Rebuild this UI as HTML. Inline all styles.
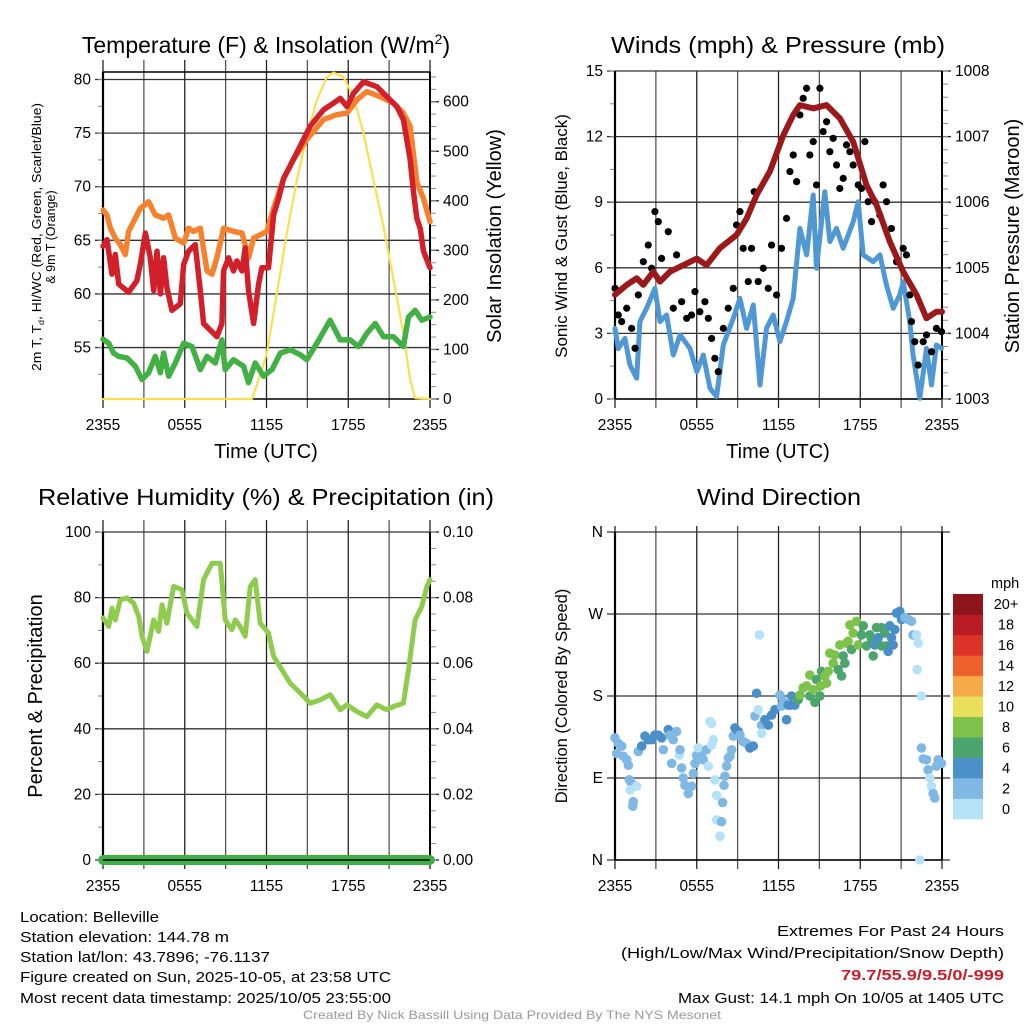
<!DOCTYPE html>
<html><head><meta charset="utf-8"><style>
html,body{margin:0;padding:0;background:#fff;}
svg{display:block;font-family:"Liberation Sans",sans-serif;}
</style></head><body>
<svg id="fig" width="1024" height="1024" viewBox="0 0 1024 1024" xmlns="http://www.w3.org/2000/svg">
<rect width="1024" height="1024" fill="#fff"/>
<g id="layer"></g>
<text x="266" y="53" font-size="23" text-anchor="middle">Temperature (F) &amp; Insolation (W/m<tspan font-size="14" dy="-9">2</tspan><tspan dy="9">)</tspan></text>
<text x="778" y="53" font-size="23" text-anchor="middle" textLength="334" lengthAdjust="spacingAndGlyphs">Winds (mph) &amp; Pressure (mb)</text>
<text x="266" y="505" font-size="23" text-anchor="middle" textLength="456" lengthAdjust="spacingAndGlyphs">Relative Humidity (%) &amp; Precipitation (in)</text>
<text x="779" y="505" font-size="23" text-anchor="middle" textLength="164" lengthAdjust="spacingAndGlyphs">Wind Direction</text>
<text x="266" y="458" font-size="20" text-anchor="middle">Time (UTC)</text>
<text x="778" y="458" font-size="20" text-anchor="middle">Time (UTC)</text>
<text transform="translate(41,237) rotate(-90)" font-size="12.5" text-anchor="middle" textLength="268" lengthAdjust="spacingAndGlyphs">2m T, T<tspan font-size="8" dy="3">d</tspan><tspan dy="-3">, HI/WC (Red, Green, Scarlet/Blue)</tspan></text>
<text transform="translate(55,237) rotate(-90)" font-size="12.5" text-anchor="middle">&amp; 9m T (Orange)</text>
<text transform="translate(501,236) rotate(-90)" font-size="20" text-anchor="middle">Solar Insolation (Yellow)</text>
<text transform="translate(567,236) rotate(-90)" font-size="17" text-anchor="middle">Sonic Wind &amp; Gust (Blue, Black)</text>
<text transform="translate(1019,236) rotate(-90)" font-size="20" text-anchor="middle">Station Pressure (Maroon)</text>
<text transform="translate(42,696) rotate(-90)" font-size="20" text-anchor="middle">Percent &amp; Precipitation</text>
<text transform="translate(567,696) rotate(-90)" font-size="16.5" text-anchor="middle">Direction (Colored By Speed)</text>
<g font-size="15">
<text x="20" y="922" textLength="139" lengthAdjust="spacingAndGlyphs">Location: Belleville</text>
<text x="20" y="942" textLength="209" lengthAdjust="spacingAndGlyphs">Station elevation: 144.78 m</text>
<text x="20" y="962" textLength="250" lengthAdjust="spacingAndGlyphs">Station lat/lon: 43.7896; -76.1137</text>
<text x="20" y="982" textLength="371" lengthAdjust="spacingAndGlyphs">Figure created on Sun, 2025-10-05, at 23:58 UTC</text>
<text x="20" y="1003" textLength="371" lengthAdjust="spacingAndGlyphs">Most recent data timestamp: 2025/10/05 23:55:00</text>
</g>
<g font-size="15" text-anchor="end">
<text x="1004" y="936" textLength="227" lengthAdjust="spacingAndGlyphs">Extremes For Past 24 Hours</text>
<text x="1004" y="958" textLength="383" lengthAdjust="spacingAndGlyphs">(High/Low/Max Wind/Precipitation/Snow Depth)</text>
<text x="1004" y="980" font-weight="bold" fill="#c8202a" textLength="163" lengthAdjust="spacingAndGlyphs">79.7/55.9/9.5/0/-999</text>
<text x="1004" y="1003" textLength="326" lengthAdjust="spacingAndGlyphs">Max Gust: 14.1 mph On 10/05 at 1405 UTC</text>
</g>
<text x="512" y="1019" font-size="12" fill="#999" text-anchor="middle" textLength="418" lengthAdjust="spacingAndGlyphs">Created By Nick Bassill Using Data Provided By The NYS Mesonet</text>
</svg>
<script>
// ---- data ----
const timeTicks = ["2355","0555","1155","1755","2355"];
const tempTicks = [55,60,65,70,75,80];
const solarTicks = [0,100,200,300,400,500,600];
const windTicks = [0,3,6,9,12,15];
const pressTicks = [1003,1004,1005,1006,1007,1008];
const rhTicks = [0,20,40,60,80,100];
const precipTicks = ["0.00","0.02","0.04","0.06","0.08","0.10"];
const dirTicks = ["N","E","S","W","N"];
const speedBins = ["0","2","4","6","8","10","12","14","16","18","20+"];
const speedColors = ["#b6e2f8","#7fb9e3","#4a8fc7","#4ba56d","#7dc24b","#e8e05a","#f6aa48","#ef612c","#dc3429","#ba1c26","#8e151a"];

const tempHours = [0,.29,.66,.9,1.15,1.88,2.49,2.74,3.11,3.47,3.72,3.96,4.21,4.45,4.69,5.06,5.67,5.92,6.28,6.77,7.14,7.38,8.36,8.73,8.85,9.22,9.58,9.83,10.2,10.44,10.68,11.05,11.42,11.66,12.15,12.52,12.89,13.25,13.74,14.47,15.21,16.19,16.92,17.41,17.9,18.39,19.12,20.1,20.83,21.56,22.05,22.54,22.79,23.03,23.28,23.52,24];
const tempValues = [64.45,65.06,61.84,63.68,60.92,60.15,61.23,62.76,65.67,63.37,60.31,63.99,60.0,63.37,60.61,58.47,59.08,62.76,63.99,64.6,60.31,57.24,56.01,57.24,62.15,63.37,62.15,63.07,62.15,64.29,60.31,57.24,60.92,62.45,62.45,67.36,68.9,70.74,71.96,73.8,75.64,77.18,77.79,78.25,77.48,78.71,79.79,79.33,78.4,77.48,76.26,72.58,69.51,67.06,66.13,63.99,62.45];
const t9Hours = [0,.29,.54,.9,1.27,1.64,1.88,2.37,2.74,3.35,3.84,4.45,4.82,5.31,5.92,6.28,6.65,7.14,7.63,8.0,8.36,8.85,9.58,10.2,10.68,11.05,12.03,12.52,13.25,13.99,14.96,16.19,17.16,17.9,18.63,19.36,20.34,21.32,22.05,22.54,23.03,23.52,24];
const t9Values = [67.82,67.36,66.13,65.21,64.6,63.68,65.83,67.06,67.98,68.59,67.36,67.06,67.36,65.21,64.75,66.13,65.83,66.13,62.15,61.84,63.37,66.13,65.83,65.67,63.37,65.21,65.83,67.98,70.74,72.58,74.42,76.26,76.72,76.87,78.1,78.87,78.4,77.79,76.87,75.64,70.43,68.9,66.75];
const dewHours = [0,.42,.78,1.15,1.76,2.37,2.86,3.35,3.84,4.21,4.45,4.82,5.31,5.92,6.53,7.14,7.63,8.24,8.73,8.97,9.58,10.32,10.68,11.17,11.78,12.4,13.01,13.74,14.47,14.96,15.7,16.67,17.41,18.14,18.75,19.36,19.98,20.59,21.32,22.05,22.42,22.91,23.4,24];
const dewValues = [55.77,55.4,54.48,54.17,54.02,53.25,52.02,52.64,54.17,52.64,54.48,52.33,53.56,55.4,55.09,52.94,54.17,53.56,55.71,52.94,53.87,53.25,51.72,53.56,52.33,52.94,54.48,54.79,54.33,53.87,55.4,57.55,55.71,55.71,55.09,56.32,57.24,56.01,56.01,55.09,57.85,58.47,57.55,57.85];
const solarHours = [0,10.93,11.42,12.03,12.76,13.5,14.23,14.96,15.7,16.43,16.92,17.65,18.39,19.12,19.85,20.59,21.32,22.05,22.54,22.91,24];
const solarValues = [0,0,39,93,214,335,442,530,603,650,659,650,610,536,442,348,241,133,39,2,0];

const pressHours = [0,.86,1.59,2.08,2.81,3.3,4.03,5.01,6.0,6.72,7.7,8.92,9.66,10.39,11.37,12.35,13.08,13.57,14.55,15.53,16.5,17.48,18.46,19.19,20.17,21.15,22.13,22.86,23.59,24];
const pressValues = [1004.59,1004.74,1004.84,1004.74,1004.94,1004.79,1004.94,1005.04,1005.14,1005.04,1005.3,1005.5,1005.75,1006.11,1006.47,1007.02,1007.33,1007.48,1007.43,1007.48,1007.28,1006.92,1006.26,1005.96,1005.4,1004.94,1004.59,1004.23,1004.33,1004.33];
const windHours = [0,.24,.73,1.1,1.59,1.83,2.32,2.93,3.3,3.79,4.28,4.77,5.5,6.0,6.48,6.97,7.46,7.95,8.68,9.17,9.66,10.15,10.64,11.12,11.61,12.1,12.59,13.08,13.57,14.06,14.55,14.79,15.4,15.77,16.26,16.75,17.48,17.85,18.22,18.95,19.44,19.93,20.42,20.9,21.15,21.64,21.88,22.37,22.86,23.23,23.59,23.96];
const windValues = [3.23,2.3,2.77,1.55,.95,3.54,4.15,5.06,3.54,3.84,2.01,2.93,2.32,1.25,2.01,.49,.11,2.47,3.69,4.6,3.23,4.3,.64,3.23,3.84,2.62,3.54,4.6,7.8,6.59,9.33,5.98,9.48,7.2,7.8,6.89,8.11,9.02,6.59,6.28,6.59,5.21,4.15,4.76,5.37,3.54,2.01,.03,2.32,.64,2.47,2.32];
const gustHours = [0,.24,.49,.86,1.22,1.47,1.71,2.08,2.44,2.69,2.93,3.18,3.42,3.91,4.28,4.52,4.89,5.26,5.62,5.87,6.23,6.6,6.85,7.09,7.33,7.58,7.95,8.31,8.68,8.92,9.17,9.41,9.78,10.02,10.22,10.51,10.88,11.25,11.49,11.86,12.22,12.59,12.84,13.08,13.33,13.57,13.81,14.06,14.3,14.55,14.79,15.04,15.28,15.53,15.77,16.01,16.26,16.5,16.75,16.99,17.24,17.48,17.85,18.09,18.34,18.58,18.83,19.07,19.44,19.68,19.93,20.29,20.66,21.15,21.39,21.64,21.76,22.0,22.25,22.62,22.86,23.23,23.59,23.96];
const gustValues = [5.06,3.84,3.54,4.15,3.23,2.32,4.76,6.28,7.04,5.98,8.57,8.11,6.43,7.65,4.15,6.59,4.45,3.69,3.84,4.91,3.99,4.45,3.69,2.77,1.86,1.25,3.23,4.15,5.06,7.96,8.57,6.89,5.37,6.89,9.48,5.37,5.98,5.06,7.04,4.76,6.89,8.26,10.4,11.16,9.94,12.99,13.75,14.21,11.16,11.77,9.79,14.21,12.23,12.68,11.31,11.92,10.7,9.63,10.09,11.62,11.31,10.7,9.79,9.63,11.77,9.02,8.11,9.02,8.41,9.79,9.02,7.8,6.28,6.89,6.59,4.76,3.54,2.62,1.55,2.62,2.93,2.16,3.23,3.08];

const rhHours = [0,.42,.66,.9,1.27,1.76,2.25,2.62,2.86,3.23,3.72,4.08,4.33,4.69,5.18,5.79,6.16,6.89,7.38,8.0,8.61,8.97,9.46,9.71,10.07,10.44,10.81,11.17,11.54,12.15,12.52,13.13,13.74,14.47,15.21,15.94,16.67,17.41,17.9,18.63,19.36,20.1,20.83,21.32,22.05,22.42,22.91,23.4,23.77,24];
const rhValues = [73.8,71.2,76.8,73.2,79.3,79.9,78.3,74.3,68.2,63.6,73.2,69.7,77.8,72.2,83.4,82.4,75.3,71.2,85.5,90.5,90.5,73.2,70.2,73.2,71.2,68.2,83.4,85.5,72.2,69.2,62.1,58.0,53.9,50.9,47.8,48.8,50.4,45.8,47.3,45.3,43.7,47.3,45.8,46.8,47.8,58.0,73.2,77.3,83.4,85.5];
const precipHours = [0,24];
const precipValues = [0,0];

const dirHours = [0,.24,.49,.12,.61,.86,.98,1.05,1.22,1.1,1.59,1.34,1.3,1.71,1.96,2.2,2.44,2.69,2.93,3.18,3.42,3.55,3.91,4.03,4.28,4.52,4.16,4.72,4.77,4.89,5.01,5.13,5.38,5.62,5.75,5.87,5.99,6.11,6.36,6.48,6.72,6.85,6.97,7.09,7.21,7.09,7.33,7.46,7.46,7.7,7.82,7.9,8.0,8.07,8.19,8.31,8.44,8.56,8.68,8.8,9.05,9.17,9.41,9.66,9.9,10.15,10.27,10.39,10.51,10.59,10.76,10.76,11.0,11.25,11.49,11.74,12.1,12.22,12.35,12.59,12.71,12.84,12.96,13.2,13.45,13.57,13.81,14.06,14.3,14.3,14.55,14.67,14.79,15.04,15.09,15.16,15.4,15.53,15.65,15.77,16.01,16.14,16.38,16.5,16.63,16.75,16.87,16.99,17.11,17.24,17.36,17.48,17.73,17.85,18.09,18.22,18.46,18.7,18.83,18.95,19.07,19.19,19.32,19.56,19.56,19.8,19.93,20.05,20.17,20.29,20.42,20.54,20.66,20.9,21.03,21.27,21.52,21.76,21.88,22.13,22.25,22.18,22.49,22.49,22.62,22.86,22.98,23.11,23.23,23.35,23.47,23.59,23.72,23.96,22.37];
const dirValues = [134,128,125,117,114,110,104,88,84,77,81,64,59,119,125,136,132,132,137,137,134,121,143,137,132,141,106,115,121,101,90,82,73,81,95,106,115,123,114,110,121,103,152,150,132,126,88,71,44,26,42,63,82,92,103,112,114,121,136,145,141,137,130,128,123,125,158,183,165,247,148,139,154,148,159,165,181,169,174,154,170,170,180,170,176,181,189,191,180,203,187,173,198,180,191,207,202,194,207,227,216,225,209,236,202,224,216,238,240,258,231,249,262,236,247,257,235,247,242,224,236,255,244,255,235,249,235,229,257,244,236,253,271,273,264,266,264,262,247,247,238,209,180,123,111,110,99,90,81,73,68,103,110,106,0];
const dirSpeeds = [3,3,3,3,3,3,3,3,3,1,1,3,3,3,5,5,5,5,5,5,5,3,5,3,3,3,3,1,3,3,3,3,3,3,3,3,3,1,3,3,3,1,1,1,1,1,1,1,1,1,3,3,3,3,3,3,3,3,3,5,5,3,3,3,5,5,3,5,1,1,3,1,5,5,5,5,3,3,3,5,5,5,5,5,7,9,9,9,7,9,9,7,7,7,9,7,9,9,9,9,9,9,7,9,7,7,7,9,9,9,7,9,9,9,7,7,7,7,7,7,5,7,5,7,7,7,7,5,5,5,5,5,5,5,5,3,3,3,3,1,1,1,1,3,3,3,3,1,1,3,3,3,3,3,1];

// ---- drawing ----
const NS = "http://www.w3.org/2000/svg";
const layer = document.getElementById('layer');
function mk(tag, attrs, parent){
  const e = document.createElementNS(NS, tag);
  for (const k in attrs) e.setAttribute(k, attrs[k]);
  (parent||layer).appendChild(e);
  return e;
}
function lin(d0,d1,r0,r1){ return v => r0 + (v-d0)/(d1-d0)*(r1-r0); }
function pathOf(xs, ys, sx, sy){
  return xs.map((h,i)=>(i?'L':'M')+sx(h).toFixed(1)+','+sy(ys[i]).toFixed(1)).join('');
}

function panel(px0, px1, py0, py1, opts){
  const g = mk('g', {});
  
  
  const sx = lin(0, 24, px0, px1);
  for (let h=0; h<=24; h+=3){
    const x = sx(h);
    const l = mk('line', {x1:x, x2:x, y1:py0-(opts.vext||0), y2:py1+9, stroke:(h%6? '#555':'#222'), 'stroke-width':1.3}, g);
    
    
  }
  timeTicks.forEach((t,i)=>{
    const tx = mk('text', {x:sx(i*6), y:py1+31, 'font-size':15.5, 'text-anchor':'middle'}, g);
    tx.textContent = t;
    
    
  });
  return {g, sx};
}
function leftAxis(g, px0, px1, sy, ticks, labels, minorStep, lo, hi){
  ticks.forEach((v,i)=>{
    const y = sy(v);
    const l = mk('line', {x1:px0-8, x2:px1+ (g._rightExt||0), y1:y, y2:y, stroke:'#333', 'stroke-width':1.3}, g);
    
    
    const t = mk('text', {x:px0-12, y:y+5, 'font-size':15.5, 'text-anchor':'end'}, g);
    t.textContent = labels ? labels[i] : v;
    
    
  });
  if (minorStep){
    for (let v=lo; v<=hi+1e-9; v+=minorStep){
      const y = sy(v);
      mk('line', {x1:px0-5, x2:px0, y1:y, y2:y, stroke:'#888', 'stroke-width':1}, g);
    }
  }
}
function rightAxis(g, px1, sy, ticks, labels, minorStep, lo, hi){
  ticks.forEach((v,i)=>{
    const y = sy(v);
    mk('line', {x1:px1, x2:px1+9, y1:y, y2:y, stroke:'#222', 'stroke-width':1.3}, g);
    const t = mk('text', {x:px1+13, y:y+5, 'font-size':15.5}, g);
    t.textContent = labels ? labels[i] : v;
    
    
  });
  if (minorStep){
    for (let v=lo; v<=hi+1e-9; v+=minorStep){
      const y = sy(v);
      mk('line', {x1:px1, x2:px1+6, y1:y, y2:y, stroke:'#888', 'stroke-width':1}, g);
    }
  }
}
function frame(g, x0, x1, y0, y1, top){
  mk('line', {x1:x0, x2:x0, y1:y0, y2:y1, stroke:'#000', 'stroke-width':2.2}, g);
  mk('line', {x1:x1, x2:x1, y1:y0, y2:y1, stroke:'#000', 'stroke-width':2}, g);
  mk('line', {x1:x0, x2:x1, y1:y1, y2:y1, stroke:'#000', 'stroke-width':1.5}, g);
  if (top) mk('line', {x1:x0, x2:x1, y1:y0, y2:y0, stroke:'#000', 'stroke-width':1.5}, g);
}
function series(g, d, color, w, name){
  const p = mk('path', {d, fill:'none', stroke:color, 'stroke-width':w, 'stroke-linejoin':'round', 'stroke-linecap':'round'}, g);
  
  
}

// Panel 1: temperature
(function(){
  const X0=103, X1=430, Y0=72, Y1=399;
  const {g, sx} = panel(X0, X1, Y0, Y1, {name:'temperature-panel', vext:12});
  const sy = lin(50.2, 80.7, Y1, Y0);
  const sr = lin(0, 660, Y1, Y0);
  leftAxis(g, X0, X1, sy, tempTicks, null, 2.5, 52.5, 80);
  rightAxis(g, X1, sr, solarTicks, null, 25, 0, 650);
  frame(g, X0, X1, Y0, Y1, true);
  series(g, pathOf(solarHours, solarValues, sx, sr), '#fbe04c', 2.2, 'solar-insolation-line');
  series(g, pathOf(t9Hours, t9Values, sx, sy), '#f5822f', 5.5, 'temp-9m-line');
  series(g, pathOf(dewHours, dewValues, sx, sy), '#43b045', 5.5, 'dewpoint-line');
  series(g, pathOf(tempHours, tempValues, sx, sy), '#d2202a', 5.5, 'temp-2m-line');
})();

// Panel 2: winds
(function(){
  const X0=615, X1=942, Y0=71, Y1=399;
  const {g, sx} = panel(X0, X1, Y0, Y1, {name:'winds-panel', vext:0});
  const sy = lin(0, 15, Y1, Y0);
  const sp = lin(1003, 1008, Y1, Y0);
  leftAxis(g, X0, X1, sy, windTicks, null, 1.5, 0, 15);
  rightAxis(g, X1, sp, pressTicks, null, 0.2, 1003, 1008);
  frame(g, X0, X1, Y0, Y1, false);
  series(g, pathOf(windHours, windValues, sx, sy), '#4f98d3', 5, 'sonic-wind-line');
  gustHours.forEach((h,i)=>{
    const c = mk('circle', {cx:sx(h), cy:sy(gustValues[i]), r:3.6, fill:'#000'}, g);
    
    
  });
  series(g, pathOf(pressHours, pressValues, sx, sp), '#9a1a1c', 6, 'pressure-line');
})();

// Panel 3: RH
(function(){
  const X0=103, X1=430, Y0=532, Y1=860;
  const {g, sx} = panel(X0, X1, Y0, Y1, {name:'humidity-panel', vext:12});
  const sy = lin(0, 100, Y1, Y0);
  const spr = lin(0, 0.1, Y1, Y0);
  leftAxis(g, X0, X1, sy, rhTicks, null, 10, 0, 100);
  rightAxis(g, X1, spr, [0,.02,.04,.06,.08,.1], precipTicks, 0.005, 0, 0.1);
  frame(g, X0, X1, Y0, Y1, false);
  series(g, pathOf(rhHours, rhValues, sx, sy), '#8fcb4f', 5, 'humidity-line');
  const pp = mk('path', {d:pathOf(precipHours, precipValues, sx, spr), fill:'none', stroke:'#3fae49', 'stroke-width':10, 'stroke-linecap':'round'}, g);
  
  
  mk('line', {x1:X0, x2:X1, y1:Y1, y2:Y1, stroke:'#000', 'stroke-width':1.5}, g);
})();

// Panel 4: wind direction
(function(){
  const X0=615, X1=942, Y0=532, Y1=860;
  const {g, sx} = panel(X0, X1, Y0, Y1, {name:'wind-direction-panel', vext:6});
  const sy = lin(0, 360, Y1, Y0);
  g._rightExt = 8;
  leftAxis(g, X0, X1, sy, [0,90,180,270,360], dirTicks, 0, 0, 0);
  frame(g, X0, X1, Y0, Y1, false);
  dirHours.forEach((h,i)=>{
    const bin = Math.min(10, Math.floor(dirSpeeds[i]/2));
    const c = mk('circle', {cx:sx(h), cy:sy(dirValues[i]), r:4.8, fill:speedColors[bin]}, g);
    
    
  });
  const cb = mk('g', {});
  
  
  const t = mk('text', {x:991, y:588, 'font-size':14.5}, cb);
  t.textContent = 'mph';
  const top=594, bot=819, h=(bot-top)/speedBins.length;
  speedBins.forEach((lab,i)=>{
    const yy = bot - (i+1)*h;
    const r = mk('rect', {x:953, y:yy, width:30, height:h+0.3, fill:speedColors[i]}, cb);
    
    
    const tx = mk('text', {x:1006, y:yy+h/2+5, 'font-size':14.5, 'text-anchor':'middle'}, cb);
    tx.textContent = lab;
    
    
  });
})();
</script>
</body></html>
